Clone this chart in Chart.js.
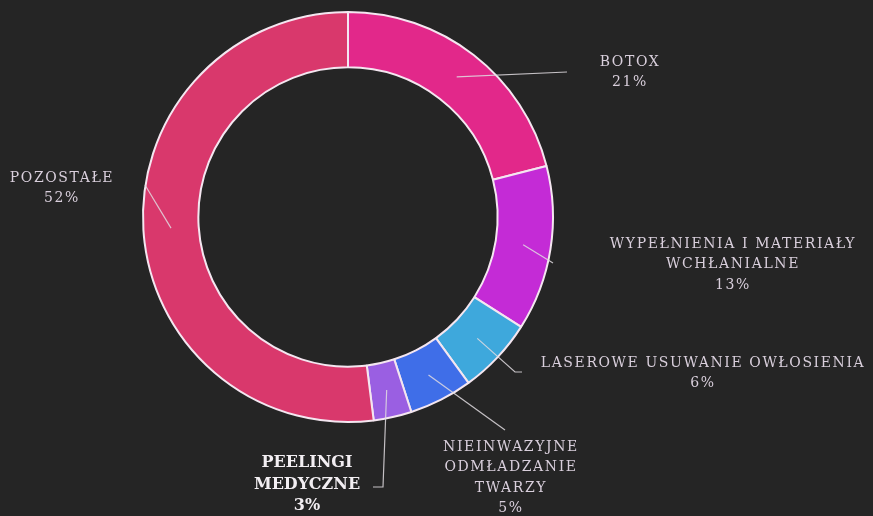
<!DOCTYPE html>
<html>
<head>
<meta charset="utf-8">
<script src="https://cdn.jsdelivr.net/npm/chart.js@4"></script>
<style>
  html, body { margin: 0; padding: 0; background: #252525; }
  #wrap { width: 873px; height: 516px; position: relative; }
</style>
</head>
<body>
<div id="wrap"><canvas id="chart"></canvas></div>
<script>
// data
const categories = [
  ["BOTOX"],
  ["WYPEŁNIENIA I MATERIAŁY", "WCHŁANIALNE"],
  ["LASEROWE USUWANIE OWŁOSIENIA"],
  ["NIEINWAZYJNE", "ODMŁADZANIE", "TWARZY"],
  ["PEELINGI", "MEDYCZNE"],
  ["POZOSTAŁE"]
];
const shares = [21, 13, 6, 5, 3, 52];

const sliceColors = ["#e2288a", "#c42bd6", "#3ea8dc", "#3f6ee8", "#9a5fe2", "#d9386c"];

// label placement: text centre x, first line y, leader end points
const labelLayout = [
  { x: 630, y: 62, line: [[567, 72]] },
  { x: 733, y: 244, line: [[553, 263]] },
  { x: 703, y: 363, line: [[515, 372], [522, 372]] },
  { x: 511, y: 447, line: [[505, 430]] },
  { x: 307, y: 463, line: [[383, 487], [373, 487]], bold: true },
  { x: 62, y: 178, line: [[145, 185]] }
];

const labelPlugin = {
  id: "sliceLabels",
  afterDatasetsDraw(chart) {
    const ctx = chart.ctx;
    const arcs = chart.getDatasetMeta(0).data;
    ctx.save();
    arcs.forEach((arc, i) => {
      const p = arc.getProps(["x", "y", "startAngle", "endAngle", "innerRadius", "outerRadius"], true);
      const mid = (p.startAngle + p.endAngle) / 2;
      const r = (p.innerRadius + p.outerRadius) / 2;
      const sx = p.x + Math.cos(mid) * r;
      const sy = p.y + Math.sin(mid) * r;
      const lay = labelLayout[i];
      ctx.strokeStyle = "rgba(225,220,225,0.85)";
      ctx.lineWidth = 1.2;
      ctx.beginPath();
      ctx.moveTo(sx, sy);
      lay.line.forEach(pt => ctx.lineTo(pt[0], pt[1]));
      ctx.stroke();

      const lines = categories[i].concat([shares[i] + "%"]);
      ctx.textAlign = "center";
      ctx.textBaseline = "middle";
      if (lay.bold) {
        ctx.font = "bold 16px 'DejaVu Serif'";
        ctx.fillStyle = "#f2eef2";
        ctx.letterSpacing = "0px";
      } else {
        ctx.font = "14px 'DejaVu Serif'";
        ctx.fillStyle = "#d9cfdc";
        ctx.letterSpacing = "1.6px";
      }
      const lh = lay.bold ? 21.5 : 20.5;
      lines.forEach((t, k) => ctx.fillText(t, lay.x, lay.y + k * lh));
    });
    ctx.restore();
  }
};

new Chart(document.getElementById("chart"), {
  type: "doughnut",
  data: {
    labels: categories.map(c => c.join(" ")),
    datasets: [{
      data: shares,
      backgroundColor: sliceColors,
      borderColor: "#f4e6f0",
      borderWidth: 2
    }]
  },
  options: {
    responsive: true,
    maintainAspectRatio: false,
    animation: false,
    cutout: "73%",
    layout: { padding: { left: 142, right: 319, top: 11, bottom: 93 } },
    plugins: {
      legend: { display: false },
      tooltip: { enabled: false }
    }
  },
  plugins: [labelPlugin]
});
</script>
</body>
</html>
